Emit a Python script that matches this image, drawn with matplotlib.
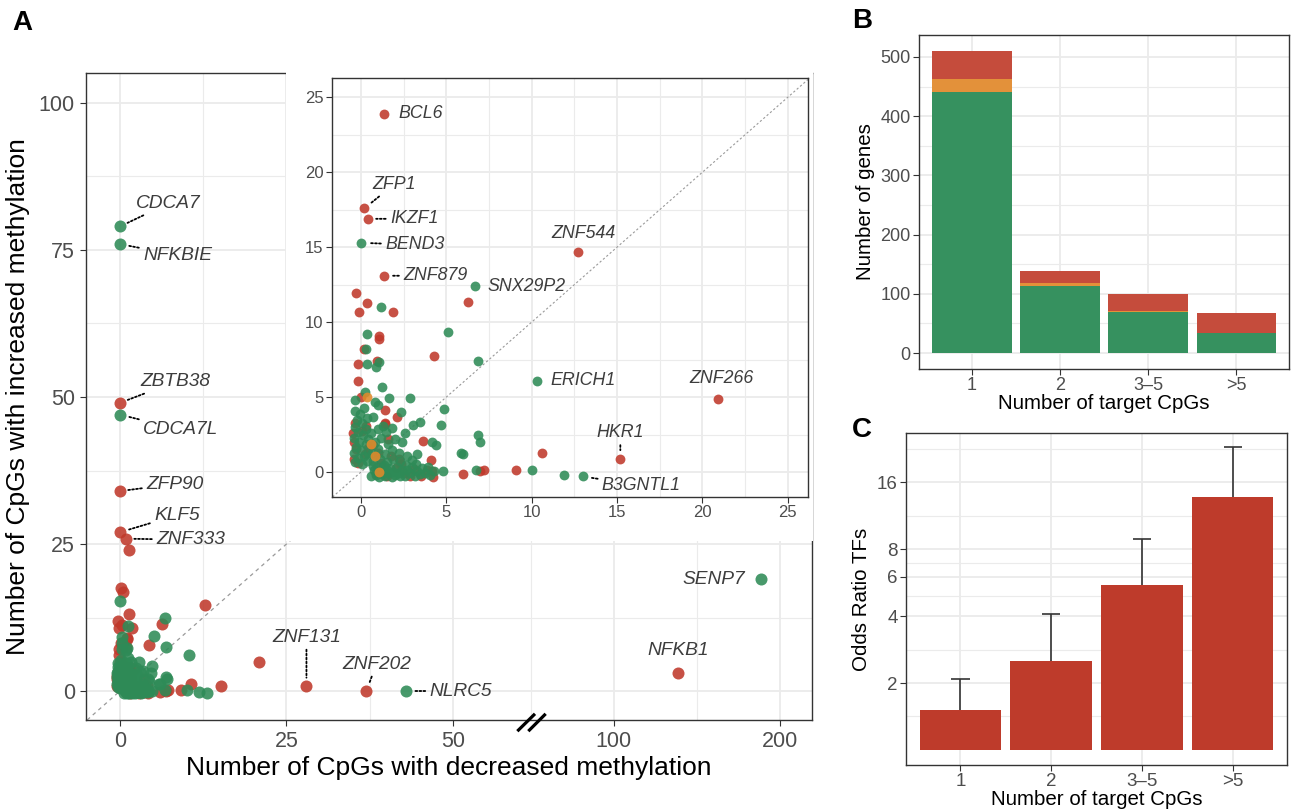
import numpy as np
import matplotlib
matplotlib.use('Agg')
import matplotlib.pyplot as plt
from matplotlib.path import Path
from matplotlib.ticker import FixedLocator, NullFormatter, FixedFormatter
import matplotlib.transforms as mtrans

plt.rcParams['font.family'] = ['Liberation Sans', 'DejaVu Sans']

# ---------------- DATA ----------------
# Panel A: CpGs with decreased (x) / increased (y) methylation per gene (jittered positions as drawn)
green_dec = [0, 0, 0, 43, 189, 0.0, 6.7, 10.3, 13.0,
             -0.35, 0.05, 0.35, -0.2, 0.2, -0.42, 0.42, 0.0, -0.3, 0.3, -0.1, 0.4, -0.4, 0.1, -0.2, 0.3,
             -0.38, 0.05, -0.25, 0.35, -0.05, -0.33, 0.2, -0.33, 0.22, 0.84, 1.02, 1.64, 2.86, 1.23, 0.35,
             0.88, 1.07, 0.29, 0.35, 1.17, 5.1, 6.84, 0.7, 2.35, 4.85, 3.46, 3.05, 4.67, 1.82, 4.14, 4.42,
             5.87, 5.96, 6.84, 7.0, 4.81, 6.73, 10.0, 11.9,
             0.7, 1.1, 1.5, 1.9, 2.3, 0.65, 1.0, 1.4, 1.8, 2.2, 0.8, 1.2, 1.6, 2.0, 0.6, 1.0, 1.45, 2.4,
             2.7, 3.0, 3.3, 2.6, 1.3,
             0.6, 0.75, 0.85, 0.95, 1.05, 1.15, 1.25, 1.3, 1.4, 1.5, 1.6, 1.7, 1.8, 1.9, 2.0, 2.1, 2.2,
             2.3, 2.4, 2.55, 2.7, 2.85, 3.0, 3.15, 3.3, 3.45, 3.6, 3.75, 3.9, 4.05, 4.3, 0.7, 1.35, 2.65, 3.2]
green_inc = [79, 76, 47, 0, 19, 15.3, 12.4, 6.1, -0.3,
             0.65, 0.55, 0.75, 0.95, 1.1, 1.25, 1.3, 1.45, 1.7, 1.85, 2.0, 2.2, 2.3, 2.45, 2.7, 2.9,
             3.0, 3.25, 3.45, 3.6, 3.85, 4.09, 4.25, 4.82, 5.31, 4.69, 4.44, 4.91, 4.96, 5.64, 7.22,
             6.98, 7.36, 8.2, 9.24, 11.0, 9.35, 7.44, 3.69, 3.98, 4.18, 3.33, 3.16, 3.11, 2.91, 1.98, 1.78,
             1.27, 1.22, 2.44, 2.02, 0.04, 0.13, 0.13, -0.2,
             0.7, 0.85, 0.65, 0.9, 0.7, 1.3, 1.55, 1.2, 1.45, 1.25, 2.0, 2.3, 1.9, 2.2, 2.6, 2.9, 2.7, 2.0,
             1.1, 0.8, 1.2, 2.6, 3.1,
             -0.3, 0.1, -0.2, 0.3, -0.35, 0.05, -0.15, 0.3, -0.3, 0.1, -0.1, 0.25, -0.35, 0.0, -0.2, 0.35, -0.05,
             -0.3, 0.15, -0.25, 0.1, -0.1, 0.3, -0.3, 0.05, -0.15, 0.25, -0.05, 0.3, -0.2, 0.05, 0.4, 0.45, 0.45, 0.5]
red_dec = [0, 0, 0, 0.9, 28, 37, 139, 1.35, 0.2, 0.4, 1.35, 12.7, 20.9, 15.2,
           -0.31, 0.37, -0.12, 1.86, 6.26, 1.07, 1.07, 0.16, 0.96, 4.3, -0.16, -0.16, 0.0, 1.41, 2.09,
           1.41, 1.39, 3.66, 4.09, 4.18, 4.2, 5.98, 6.98, 7.19, 9.1, 10.6,
           -0.4, 0.25, -0.3, 0.4, -0.45, 0.05, -0.35, 0.3, -0.4, -0.2, 1.0, 1.6, 2.2, 0.7, 1.75, 1.55,
           2.05, 2.5, 3.1, 3.5, 3.85, 2.35, 0.9, 2.9, 1.2]
red_inc = [49, 34, 27, 25.9, 0.85, 0, 3, 23.9, 17.6, 16.9, 13.1, 14.7, 4.9, 0.9,
           11.95, 11.3, 10.65, 10.7, 11.33, 9.07, 8.9, 8.2, 7.44, 7.76, 7.18, 6.09, 4.98, 4.13, 3.69,
           3.29, 3.2, 2.09, 0.8, 0.07, -0.31, -0.16, 0.07, 0.16, 0.13, 1.27,
           0.85, 1.2, 1.55, 1.6, 2.6, 2.75, 3.3, 3.1, 2.0, 0.6, 1.3, 2.2, 0.85, 1.8, 1.05, -0.3,
           0.25, -0.1, 0.2, -0.25, 0.1, 0.55, -0.1, -0.3, 0.6]
orange_dec = [0.37, 0.82, 1.07, 0.6]
orange_inc = [4.98, 1.07, 0.02, 1.9]

main_labels = ['CDCA7', 'NFKBIE', 'ZBTB38', 'CDCA7L', 'ZFP90', 'KLF5', 'ZNF333',
               'ZNF131', 'ZNF202', 'NLRC5', 'NFKB1', 'SENP7']
main_label_dec = [0, 0, 0, 0, 0, 0, 0.9, 28, 37, 43, 139, 189]
main_label_inc = [79, 76, 49, 47, 34, 27, 25.9, 0.85, 0, 0, 3, 19]
inset_labels = ['BCL6', 'ZFP1', 'IKZF1', 'BEND3', 'ZNF879', 'SNX29P2', 'ZNF544',
                'ERICH1', 'ZNF266', 'HKR1', 'B3GNTL1']
inset_label_dec = [1.35, 0.2, 0.4, 0.0, 1.35, 6.7, 12.7, 10.3, 20.9, 15.2, 13.0]
inset_label_inc = [23.9, 17.6, 16.9, 15.3, 13.1, 12.4, 14.7, 6.1, 4.9, 0.9, -0.3]
INSET_MAX = 25

# Panel B
categories = ['1', '2', '3\u20135', '>5']
genes_green = [441, 113, 70, 34]
genes_orange = [22, 5, 1, 0]
genes_red = [47, 21, 29, 34]

# Panel C
odds_ratio = [1.51, 2.51, 5.51, 13.7]
odds_upper = [2.08, 4.1, 8.85, 22.9]

# ---------------- STYLE ----------------
GREEN = '#2E8B57'
RED = '#C0392B'
ORANGE = '#E08A2A'
BAR_GREEN = '#36915F'
BAR_ORANGE = '#E3913A'
BAR_RED = '#C54C3C'
C_RED = '#BE3B2B'
GRID = '#EBEBEB'
TXT = '#4D4D4D'
LAB = '#3D3D3D'

W, H = 1295, 810
fig = plt.figure(figsize=(W / 100, H / 100), dpi=100)


def px_axes(l, t, r, b):
    return fig.add_axes([l / W, 1 - b / H, (r - l) / W, (b - t) / H])


def theme(ax, fs, pad=2):
    for s in ax.spines.values():
        s.set_color('#333333')
        s.set_linewidth(1.0)
    ax.tick_params(which='major', length=4, width=0.8, color='#333333',
                   labelcolor=TXT, labelsize=fs, pad=pad)
    ax.tick_params(which='minor', length=0)
    ax.set_axisbelow(True)
    ax.grid(which='major', color=GRID, lw=1.3)
    ax.grid(which='minor', color=GRID, lw=0.8)


# broken x-axis for panel A
BRK = 61.7
K = 0.249
U100 = BRK + 50 * K


def fwd(x):
    x = np.asarray(x, dtype=float)
    mid = BRK + (x - BRK) * (U100 - BRK) / (100 - BRK)
    hi = U100 + (x - 100) * K
    return np.where(x <= BRK, x, np.where(x < 100, mid, hi))


def inv(u):
    u = np.asarray(u, dtype=float)
    mid = BRK + (u - BRK) * (100 - BRK) / (U100 - BRK)
    hi = 100 + (u - U100) / K
    return np.where(u <= BRK, u, np.where(u < U100, mid, hi))


# ---------------- PANEL A main ----------------
ax = px_axes(86, 73, 812, 720)
ax.set_xscale('function', functions=(fwd, inv))
ax.set_xlim(-5.1, 219.5)
ax.set_ylim(-4.93, 105.1)
ax.xaxis.set_major_locator(FixedLocator([0, 25, 50, 100, 200]))
ax.xaxis.set_major_formatter(FixedFormatter(['0', '25', '50', '100', '200']))
ax.xaxis.set_minor_locator(FixedLocator([12.5, 37.5, BRK, 150]))
ax.xaxis.set_minor_formatter(NullFormatter())
ax.yaxis.set_major_locator(FixedLocator([0, 25, 50, 75, 100]))
ax.yaxis.set_minor_locator(FixedLocator([12.5, 37.5, 62.5, 87.5]))
theme(ax, 15.5, pad=4)
ax.axline((0, 0), (1, 1), ls=(0, (3, 3)), color='#9A9A9A', lw=0.9, zorder=2)

sc_kw = dict(linewidths=0, alpha=0.88, zorder=3)
ax.scatter(orange_dec, orange_inc, s=75, color=ORANGE, **sc_kw)
ax.scatter(red_dec, red_inc, s=75, color=RED, **sc_kw)
ax.scatter(green_dec, green_inc, s=75, color=GREEN, **sc_kw)

# label offsets in pixels (dx, dy up), alignment, segment
main_lab_style = {
    'CDCA7': (16, 23, 'left', True), 'NFKBIE': (23, -11, 'left', True),
    'ZBTB38': (20, 21, 'left', True), 'CDCA7L': (23, -15, 'left', True),
    'ZFP90': (26, 7, 'left', True), 'KLF5': (34, 17, 'left', True),
    'ZNF333': (30, -1, 'left', True), 'ZNF131': (0, 49, 'center', True),
    'ZNF202': (10, 27, 'center', True), 'NLRC5': (23, 0, 'left', True),
    'NFKB1': (0, 23, 'center', False), 'SENP7': (-16, 0, 'right', False),
}
seg = dict(arrowstyle='-', linestyle=(0, (1, 1.2)), color='black', lw=1.3,
           shrinkA=1, shrinkB=6)


def put_labels(a, names, xs, ys, styles, fs):
    for n, x, y in zip(names, xs, ys):
        dx, dy, ha, has_seg = styles[n]
        a.annotate(n, xy=(x, y), xytext=(dx * 0.72, dy * 0.72), textcoords='offset points',
                   ha=ha, va='center', fontsize=fs, style='italic', color=LAB,
                   arrowprops=seg if has_seg else None, zorder=5)


put_labels(ax, main_labels, main_label_dec, main_label_inc, main_lab_style, 13.8)
ax.set_xlabel('Number of CpGs with decreased methylation', fontsize=19, labelpad=3)
ax.set_ylabel('Number of CpGs with increased methylation', fontsize=19, labelpad=6)

# break marks
brk_marker = Path([(-14.2, -8.7), (3.5, 8.7), (-3.2, -8.7), (14.2, 8.7)],
                  [Path.MOVETO, Path.LINETO, Path.MOVETO, Path.LINETO])
btrans = mtrans.blended_transform_factory(ax.transData, ax.transAxes)
ax.plot([BRK], [-0.003], marker=brk_marker, markersize=20.4, markeredgewidth=2.3,
        color='black', fillstyle='none', transform=btrans, clip_on=False, zorder=6)

# white background behind inset
bg = px_axes(286, 70, 813, 541)
bg.set_xticks([])
bg.set_yticks([])
for s in bg.spines.values():
    s.set_visible(False)
bg.set_facecolor('white')

# ---------------- PANEL A inset (genes with <= 25 CpGs each way) ----------------
ins = px_axes(332, 78, 808, 497)
ins.set_xlim(-1.7, 26.2)
ins.set_ylim(-1.67, 26.3)
ins.xaxis.set_major_locator(FixedLocator([0, 5, 10, 15, 20, 25]))
ins.yaxis.set_major_locator(FixedLocator([0, 5, 10, 15, 20, 25]))
ins.xaxis.set_minor_locator(FixedLocator([2.5, 7.5, 12.5, 17.5, 22.5]))
ins.yaxis.set_minor_locator(FixedLocator([2.5, 7.5, 12.5, 17.5, 22.5]))
theme(ins, 12)
ins.axline((0, 0), slope=1, ls=(0, (2, 2)), color='#9A9A9A', lw=0.8, zorder=2)


def inset_sel(xs, ys):
    xs = np.asarray(xs, dtype=float)
    ys = np.asarray(ys, dtype=float)
    m = (xs <= INSET_MAX) & (ys <= INSET_MAX)
    return xs[m], ys[m]


ins.scatter(*inset_sel(red_dec, red_inc), s=50, color=RED, **sc_kw)
ins.scatter(*inset_sel(green_dec, green_inc), s=50, color=GREEN, **sc_kw)
ins.scatter(*inset_sel(orange_dec, orange_inc), s=50, color=ORANGE, **sc_kw)
inset_lab_style = {
    'BCL6': (14, 0, 'left', False), 'ZFP1': (8, 24, 'left', True),
    'IKZF1': (22, 0, 'left', True), 'BEND3': (24, -2, 'left', True),
    'ZNF879': (19, 0, 'left', True), 'SNX29P2': (12, 0, 'left', False),
    'ZNF544': (6, 18, 'center', False), 'ERICH1': (14, 0, 'left', False),
    'ZNF266': (4, 20, 'center', False), 'HKR1': (0, 26, 'center', True),
    'B3GNTL1': (19, -9, 'left', True),
}
put_labels(ins, inset_labels, inset_label_dec, inset_label_inc, inset_lab_style, 12.8)

# ---------------- PANEL B ----------------
axb = px_axes(919, 35, 1289, 369)
xb = np.arange(len(categories))
axb.bar(xb, genes_green, width=0.9, color=BAR_GREEN, zorder=3)
axb.bar(xb, genes_orange, width=0.9, bottom=genes_green, color=BAR_ORANGE, zorder=3)
axb.bar(xb, genes_red, width=0.9, bottom=np.add(genes_green, genes_orange), color=BAR_RED, zorder=3)
axb.set_xlim(-0.6, 3.6)
axb.set_ylim(-27, 537)
axb.set_xticks(xb)
axb.set_xticklabels(categories)
axb.yaxis.set_major_locator(FixedLocator([0, 100, 200, 300, 400, 500]))
axb.yaxis.set_minor_locator(FixedLocator([50, 150, 250, 350, 450]))
theme(axb, 13)
axb.set_ylabel('Number of genes', fontsize=14.8, labelpad=4)
axb.set_xlabel('Number of target CpGs', fontsize=14.8, labelpad=0)

# ---------------- PANEL C ----------------
axc = px_axes(906, 433, 1287, 765)
xc = np.arange(len(categories))
axc.set_yscale('log')
axc.bar(xc, np.subtract(odds_ratio, 1), bottom=1, width=0.9, color=C_RED, zorder=3)
axc.vlines(xc, odds_ratio, odds_upper, color='#333333', lw=1.2, zorder=4)
axc.hlines(odds_upper, xc - 0.1, xc + 0.1, color='#333333', lw=1.2, zorder=4)
axc.set_xlim(-0.6, 3.6)
axc.set_ylim(0.856, 26.6)
axc.set_xticks(xc)
axc.set_xticklabels(categories)
axc.yaxis.set_major_locator(FixedLocator([2, 4, 6, 8, 16]))
axc.yaxis.set_major_formatter(FixedFormatter(['2', '4', '6', '8', '16']))
axc.yaxis.set_minor_locator(FixedLocator([2 ** 0.5, 2 ** 1.5, 24 ** 0.5, 48 ** 0.5, 2 ** 3.5, 2 ** 4.5]))
axc.yaxis.set_minor_formatter(NullFormatter())
theme(axc, 13.5)
axc.set_ylabel('Odds Ratio TFs', fontsize=14.8, labelpad=4)
axc.set_xlabel('Number of target CpGs', fontsize=14.8, labelpad=0)

# panel letters
fig.text(22 / W, 1 - 23 / H, 'A', fontsize=20, fontweight='bold', ha='center', va='center')
fig.text(862 / W, 1 - 21 / H, 'B', fontsize=20, fontweight='bold', ha='center', va='center')
fig.text(862 / W, 1 - 430 / H, 'C', fontsize=20, fontweight='bold', ha='center', va='center')

fig.savefig('out.png', dpi=100)
